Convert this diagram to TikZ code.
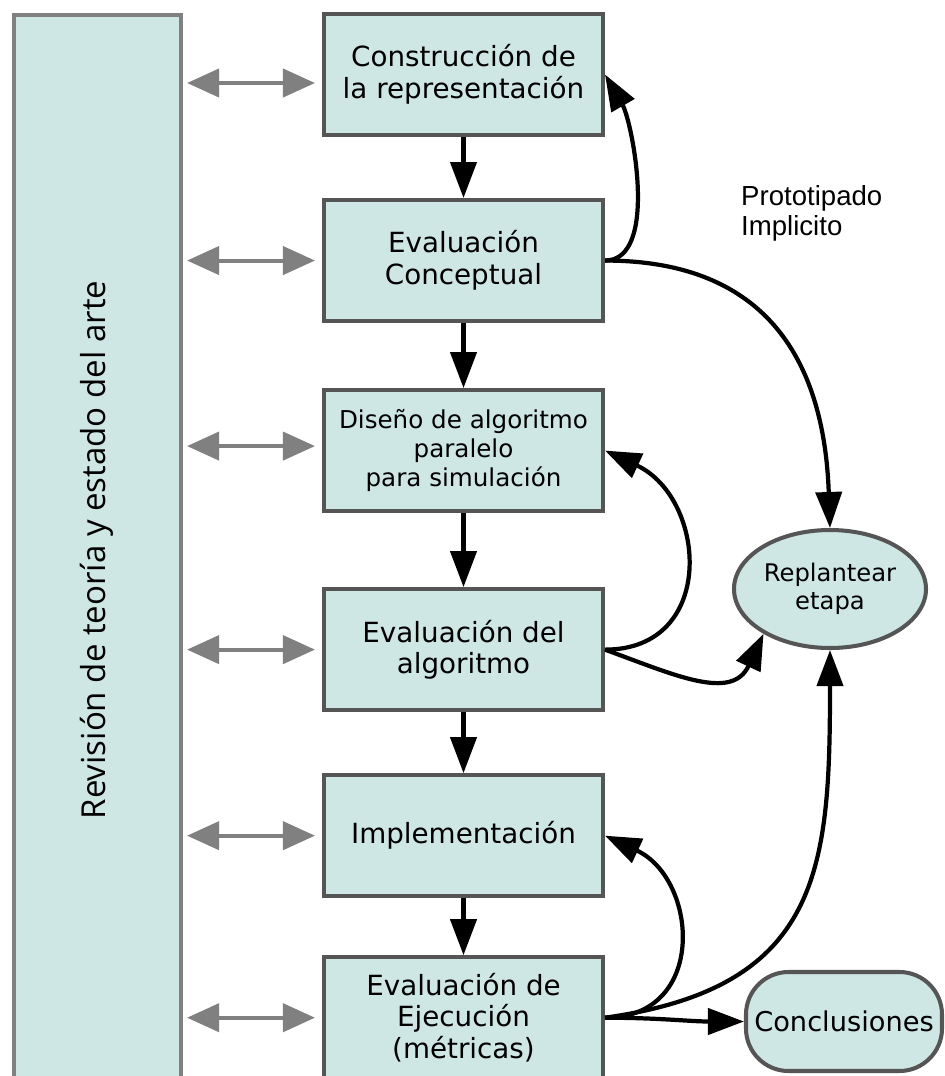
\documentclass[tikz,border=0pt]{standalone}
\usepackage{fontspec}
\setmainfont{DejaVu Sans}
\newfontfamily\notefont{Liberation Sans}
\newfontfamily\sidefont{Open Sans}
\usepackage{xcolor}
\usepackage{tikz}
\usetikzlibrary{positioning,shapes.geometric,arrows.meta}

\definecolor{boxfill}{RGB}{207,231,228}
\definecolor{boxline}{RGB}{85,85,85}
\definecolor{sideline}{RGB}{128,128,128}

\begin{document}
\begin{tikzpicture}[
  node distance=1.22cm,
  stage/.style={draw=boxline, fill=boxfill, line width=2.3pt, minimum width=5.58cm, minimum height=2.42cm, align=center, inner sep=2pt, font=\fontsize{15.8}{18}\selectfont},
  side/.style={draw=sideline, fill=boxfill, line width=2.3pt, minimum width=3.34cm, minimum height=22cm, inner sep=0pt},
  redo/.style={ellipse, draw=boxline, fill=boxfill, line width=2.3pt, minimum width=3.84cm, minimum height=2.36cm, inner sep=0pt, align=center, font=\fontsize{13.8}{16}\selectfont},
  endbox/.style={draw=boxline, fill=boxfill, line width=2.3pt, rounded corners=0.85cm, minimum width=3.92cm, minimum height=1.98cm, font=\fontsize{15.5}{18}\selectfont},
  arr/.style={-{Triangle[length=0.72cm,width=0.52cm]}, line width=2.4pt},
  garr/.style={{Triangle[length=0.64cm,width=0.56cm]}-{Triangle[length=0.64cm,width=0.56cm]}, line width=2.3pt, sideline, shorten <=0.08cm, shorten >=0.14cm},
]
\useasboundingbox (0,0) rectangle (18.9,-21.52);

% Side column
\node[side, anchor=north west] (rev) at (0.24,-0.26) {};
\node[rotate=90, font=\sidefont\fontsize{18.8}{21}\selectfont] (revlbl) at (1.94,-11.0) {Revisión de teoría y estado del arte};

% Main stages
\node[stage] (constr) at (9.27,-1.49) {Construcción de\\la representación};
\node[stage, below=1.22cm of constr] (concep) {Evaluación\\Conceptual};
\node[stage, below=1.30cm of concep, font=\fontsize{14}{16.7}\selectfont] (dise) {Diseño de algoritmo\\paralelo\\para simulación};
\node[stage, below=1.48cm of dise] (algo) {Evaluación del\\algoritmo};
\node[stage, below=1.22cm of algo] (impl) {Implementación};
\node[stage, below=1.14cm of impl] (ejec) {Evaluación de\\Ejecución\\(métricas)};

% Right side
\node[redo] (replan) at (16.6,-11.78) {Replantear\\etapa};
\node[endbox] (concl) at (16.88,-20.43) {Conclusiones};
\node[font=\notefont\fontsize{15.7}{17}\selectfont, align=left, anchor=west] (proto) at (14.7,-4.26) {Prototipado\\Implicito};

% Main flow
\draw[arr] (constr) -- (concep);
\draw[arr] (concep) -- (dise);
\draw[arr] (dise) -- (algo);
\draw[arr] (algo) -- (impl);
\draw[arr] (impl) -- (ejec);

% Links to the side column
\draw[garr] (rev.east |- 0,-1.66) -- ([yshift=-0.17cm]constr.west);
\draw[garr] (rev.east |- concep.west) -- (concep.west);
\draw[garr] ([yshift=0.09cm]rev.east |- dise.west) -- ([yshift=0.09cm]dise.west);
\draw[garr] (rev.east |- algo.west) -- (algo.west);
\draw[garr] (rev.east |- impl.west) -- (impl.west);
\draw[garr] (rev.east |- ejec.west) -- (ejec.west);

% Feedback loops
\draw[arr] (concep.east) to[out=0, in=-60, looseness=0.75] (constr.east);
\draw[arr] (concep.east) to[out=0, in=92, looseness=1.2] (replan.north);
\draw[arr] (algo.east) to[out=0, in=-25, looseness=1.45] (dise.east);
\draw[arr] (algo.east) to[out=-20, in=-115, looseness=1.2] (replan.-146);
\draw[arr] (ejec.east) to[out=0, in=-25, looseness=1.45] (impl.east);
\draw[arr] (ejec.east) to[out=8, in=-90, looseness=1.3] (replan.south);
\draw[arr] (ejec.east) to[out=0, in=180] (concl.west);
\end{tikzpicture}
\end{document}
